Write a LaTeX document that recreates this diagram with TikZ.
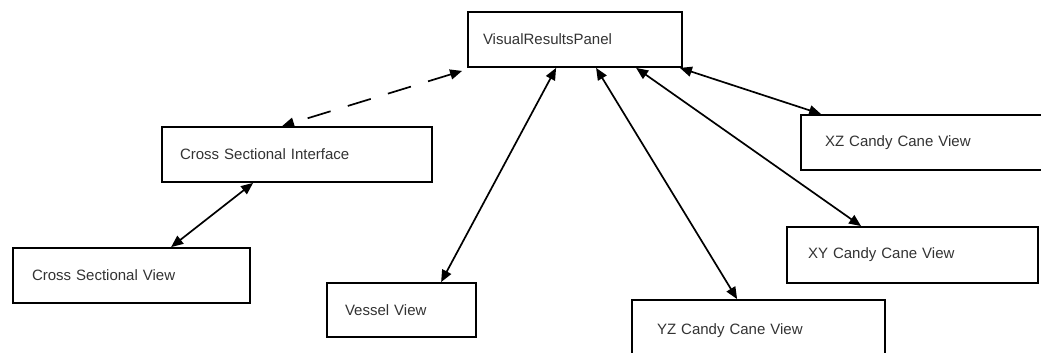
\documentclass[tikz,border=0pt]{standalone}
\usepackage{fontspec}
\setmainfont{Liberation Sans}
\usetikzlibrary{arrows.meta,calc}
\tikzset{
  box/.style={draw=black, line width=1.8pt, rectangle, inner xsep=0pt, inner ysep=0pt,
    font=\fontsize{15}{17}\selectfont, text=black!80, align=left},
  conn/.style={line width=1.7pt, {Triangle[length=12pt,width=10pt]}-{Triangle[length=12pt,width=10pt]}},
  dashconn/.style={conn, dash pattern=on 24pt off 18pt},
}
\begin{document}
\begin{tikzpicture}[x=1pt,y=-1pt]
\useasboundingbox (0,0) rectangle (1041,353);
\clip (0,0) rectangle (1041,353);
\fill[white] (0,0) rectangle (1041,353);
% boxes
\node[box, minimum width=214pt, minimum height=55pt, text width=184pt] (vrp) at (575,39.5) {VisualResultsPanel};
\node[box, minimum width=270pt, minimum height=55pt, text width=234pt] (csi) at (297,154.5) {Cross Sectional Interface};
\node[box, minimum width=237pt, minimum height=55pt, text width=199pt] (csv) at (131.5,275.5) {Cross Sectional View};
\node[box, minimum width=149pt, minimum height=54pt, text width=113pt] (ves) at (401.5,310) {Vessel View};
\node[box, minimum width=253pt, minimum height=62pt, text width=203pt] (yz) at (758.5,331) {YZ Candy Cane View};
\node[box, minimum width=251pt, minimum height=56pt, text width=209pt] (xy) at (912.5,255) {XY Candy Cane View};
\node[box, minimum width=269pt, minimum height=55pt, text width=221pt] (xz) at (935.5,142.5) {XZ Candy Cane View};
% connectors
\coordinate (dstart) at ($(vrp.south west)+(-5,3)$);
\draw[dashconn] (dstart) -- ($(csi.north west)+(121,0)$);
\draw[conn] ($(csv.north west)+(159,0)$) -- ($(csi.south west)+(92,0)$);
\draw[conn] ($(ves.north west)+(115,0)$) -- ($(vrp.south west)+(89,0)$);
\draw[conn] ($(yz.north west)+(106,0)$) -- ($(vrp.south west)+(129,0)$);
\draw[conn] ($(xy.north west)+(75,0)$) -- ($(vrp.south west)+(169,0)$);
\draw[conn] ($(xz.north west)+(21,0)$) -- ($(vrp.south east)+(-3,0)$);
\end{tikzpicture}
\end{document}
